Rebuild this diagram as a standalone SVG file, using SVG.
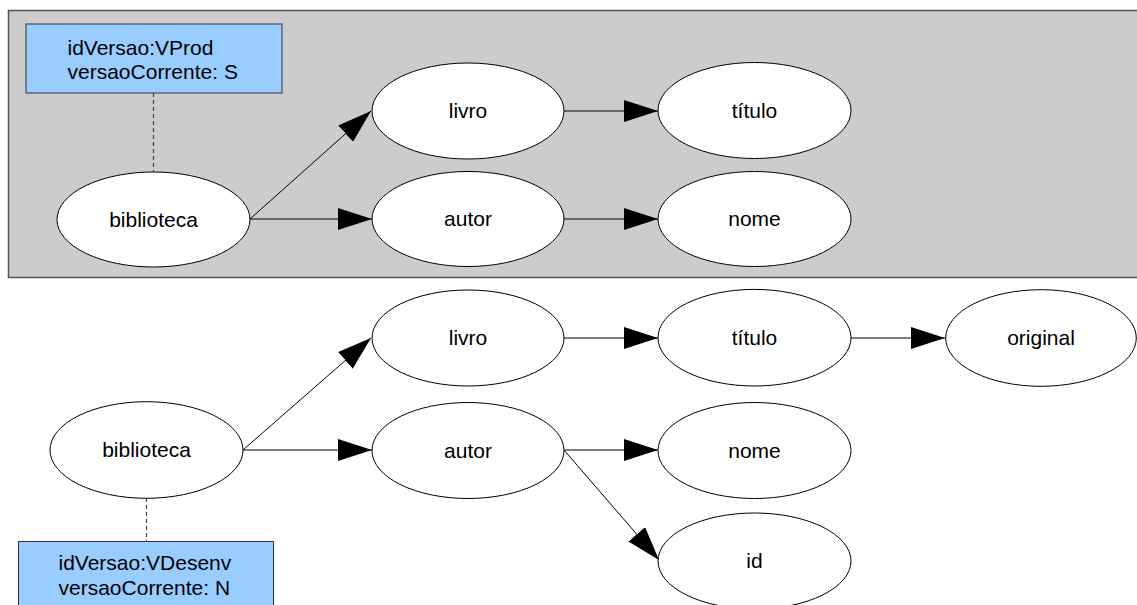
<svg xmlns="http://www.w3.org/2000/svg" width="1137" height="605" viewBox="0 0 1137 605">
<defs>
<marker id="arr" markerUnits="userSpaceOnUse" markerWidth="34" markerHeight="22" refX="34" refY="11" orient="auto">
<path d="M0,0 L34,11 L0,22 z" fill="#000"/>
</marker>
<style>
.n ellipse{fill:#fff;stroke:#000;stroke-width:1}
.t{font-family:"Liberation Sans",Arial,sans-serif;font-size:21px;fill:#000}
.n text{text-anchor:middle}
.box{fill:#99ccff;stroke:#333;stroke-width:1}
.c line{stroke:#000;stroke-width:1;marker-end:url(#arr)}
.d{stroke:#444;stroke-width:1.2;stroke-dasharray:4,3}
</style>
</defs>
<rect id="grupo" x="8.5" y="10.5" width="1140" height="267" fill="#cccccc" stroke="#555" stroke-width="1.5"/>
<g id="connectors" class="c">
<line x1="250" y1="219" x2="371" y2="111"/>
<line x1="250" y1="219" x2="372" y2="219"/>
<line x1="564" y1="111" x2="658" y2="111"/>
<line x1="564" y1="219" x2="658" y2="219"/>
<line x1="243" y1="450" x2="371" y2="338"/>
<line x1="243" y1="450" x2="372" y2="450"/>
<line x1="564" y1="338" x2="658" y2="338"/>
<line x1="851" y1="338" x2="945" y2="338"/>
<line x1="564" y1="450" x2="658" y2="450"/>
<line x1="564" y1="450" x2="659" y2="560"/>
<path class="d" d="M153.5,93 V172" fill="none"/>
<path class="d" d="M146.5,498 V541" fill="none"/>
</g>
<g id="vprod">
<rect class="box" x="26" y="24" width="256" height="69"/>
<text class="t" x="67.5" y="54.5">idVersao:VProd</text>
<text class="t" x="67.5" y="78.5">versaoCorrente: S</text>
</g>
<g id="vdesenv">
<rect class="box" x="18.5" y="541.5" width="255" height="70"/>
<text class="t" x="58.5" y="570">idVersao:VDesenv</text>
<text class="t" x="58.5" y="595">versaoCorrente: N</text>
</g>
<g id="bib1" class="n"><ellipse cx="153.5" cy="219.5" rx="96.5" ry="47.5"/><text class="t" x="153.5" y="227">biblioteca</text></g>
<g id="livro1" class="n"><ellipse cx="468" cy="111" rx="96" ry="48"/><text class="t" x="468" y="118">livro</text></g>
<g id="autor1" class="n"><ellipse cx="468" cy="219" rx="96" ry="47.5"/><text class="t" x="468" y="226">autor</text></g>
<g id="titulo1" class="n"><ellipse cx="754.5" cy="110.5" rx="96.5" ry="48"/><text class="t" x="754.5" y="118">título</text></g>
<g id="nome1" class="n"><ellipse cx="754.5" cy="219" rx="96.5" ry="47.5"/><text class="t" x="754.5" y="226">nome</text></g>
<g id="bib2" class="n"><ellipse cx="146.5" cy="450" rx="96.5" ry="48.3"/><text class="t" x="146.5" y="457">biblioteca</text></g>
<g id="livro2" class="n"><ellipse cx="468" cy="338" rx="96" ry="48"/><text class="t" x="468" y="345">livro</text></g>
<g id="autor2" class="n"><ellipse cx="468" cy="450.5" rx="96" ry="48"/><text class="t" x="468" y="457.5">autor</text></g>
<g id="titulo2" class="n"><ellipse cx="754.5" cy="337.7" rx="96.5" ry="48.3"/><text class="t" x="754.5" y="345">título</text></g>
<g id="original" class="n"><ellipse cx="1041" cy="338" rx="95.3" ry="48.3"/><text class="t" x="1041" y="345">original</text></g>
<g id="nome2" class="n"><ellipse cx="754.5" cy="450.5" rx="96.5" ry="48"/><text class="t" x="754.5" y="457.5">nome</text></g>
<g id="id" class="n"><ellipse cx="754.5" cy="561" rx="96.5" ry="48"/><text class="t" x="754.5" y="568">id</text></g>
</svg>
